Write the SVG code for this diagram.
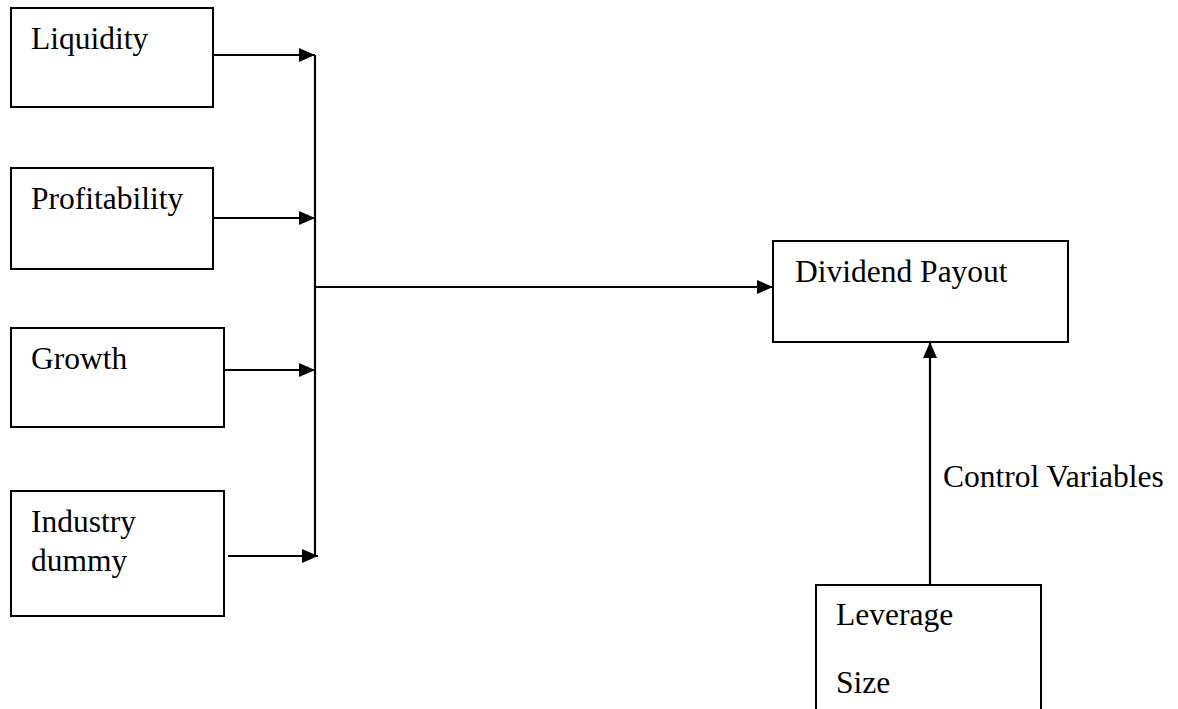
<svg xmlns="http://www.w3.org/2000/svg" width="1178" height="709" viewBox="0 0 1178 709">
<style>
.box{fill:#fff;stroke:#000;stroke-width:2}
.t{font-family:"Liberation Serif","Times New Roman",serif;font-size:31.5px;fill:#000}
.c{stroke:#000;stroke-width:2.2;fill:none}
</style>
<defs>
<marker id="ah" markerWidth="16" markerHeight="14" refX="16" refY="7" orient="auto" markerUnits="userSpaceOnUse">
<path d="M0,0 L16,7 L0,14 Z" fill="#000"/>
</marker>
</defs>
<rect width="1178" height="709" fill="#fff"/>
<g id="liquidity"><rect class="box" x="11" y="8" width="202" height="99"/><text class="t" x="31" y="49">Liquidity</text></g>
<g id="profitability"><rect class="box" x="11" y="168" width="202" height="101"/><text class="t" x="31" y="209">Profitability</text></g>
<g id="growth"><rect class="box" x="11" y="328" width="213" height="99"/><text class="t" x="31" y="369">Growth</text></g>
<g id="industry"><rect class="box" x="11" y="491" width="213" height="125"/><text class="t" x="31" y="532">Industry</text><text class="t" x="31" y="571">dummy</text></g>
<g id="dividend"><rect class="box" x="773" y="241" width="295" height="101"/><text class="t" x="795" y="282">Dividend Payout</text></g>
<g id="control"><rect class="box" x="816" y="585" width="225" height="130"/><text class="t" x="836" y="625">Leverage</text><text class="t" x="836" y="693">Size</text></g>
<g id="connectors">
<line class="c" x1="213" y1="55" x2="315" y2="55" marker-end="url(#ah)"/>
<line class="c" x1="213" y1="218" x2="315" y2="218" marker-end="url(#ah)"/>
<line class="c" x1="224" y1="370" x2="315" y2="370" marker-end="url(#ah)"/>
<line class="c" x1="228" y1="556" x2="318" y2="556" marker-end="url(#ah)"/>
<line class="c" x1="315" y1="55" x2="315" y2="556"/>
<line class="c" x1="315" y1="287" x2="773" y2="287" marker-end="url(#ah)"/>
<line class="c" x1="930" y1="585" x2="930" y2="342" marker-end="url(#ah)"/>
<text class="t" x="943" y="487">Control Variables</text>
</g>
</svg>
